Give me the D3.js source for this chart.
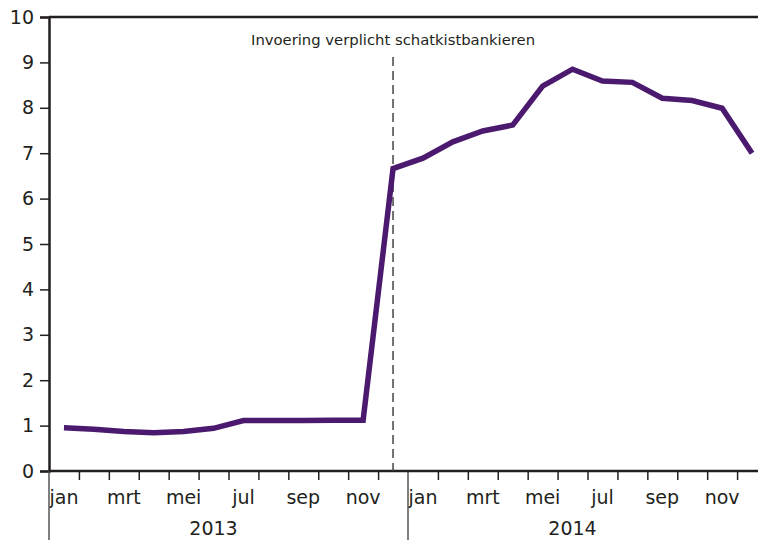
<!DOCTYPE html>
<html>
<head>
<meta charset="utf-8">
<script src="https://cdn.jsdelivr.net/npm/d3@7"></script>
<style>
  html, body { margin: 0; padding: 0; background: #fff; }
  svg { display: block; font-family: "DejaVu Sans", sans-serif; }
</style>
</head>
<body>
<svg id="chart" width="758" height="540"></svg>
<script>
const years = ["2013", "2014"];
const monthLabels = ["jan","feb","mrt","apr","mei","jun","jul","aug","sep","okt","nov","dec"];
const shownMonths = ["jan","mrt","mei","jul","sep","nov"];
const values2013 = [0.95, 0.92, 0.87, 0.84, 0.87, 0.94, 1.11, 1.11, 1.11, 1.12, 1.12, 6.66];
const values2014 = [6.89, 7.25, 7.49, 7.62, 8.48, 8.85, 8.59, 8.56, 8.21, 8.16, 7.99, 7.00];
const yTicks = [0,1,2,3,4,5,6,7,8,9,10];
const annotationText = "Invoering verplicht schatkistbankieren";
const annotationAt = "2013-dec";

(function () {
const categories = [];
years.forEach(yr => monthLabels.forEach(m => categories.push(yr + "-" + m)));
const data = categories.map((c, i) => ({ key: c,
  value: i < 12 ? values2013[i] : values2014[i - 12] }));

const svg = d3.select("#chart");
const mLeft = 49, mRight = 767, mTop = 17, mBottom = 471;
const ink = "#231f20";
const purple = "#4b1a6f";

const x = d3.scaleBand().domain(categories).range([mLeft, mRight]).padding(0);
const xi = d3.scaleLinear().domain([0, categories.length]).range([mLeft, mRight]);
const y = d3.scaleLinear().domain([0, 10]).range([mBottom, mTop]);
const cx = k => x(k) + x.bandwidth() / 2;

// top border
svg.append("line").attr("x1", mLeft).attr("x2", mRight).attr("y1", mTop).attr("y2", mTop)
  .attr("stroke", ink).attr("stroke-width", 2.5);

// y axis
const yAxis = svg.append("g").attr("transform", `translate(${mLeft},0)`)
  .call(d3.axisLeft(y).tickValues(yTicks).tickSize(9).tickPadding(6).tickFormat(d3.format("d")));
yAxis.select(".domain").attr("stroke", ink).attr("stroke-width", 2.5);
yAxis.selectAll(".tick line").attr("stroke", ink).attr("stroke-width", 1.5);
yAxis.selectAll(".tick text").attr("fill", ink).style("font-size", "19px")
  .style("font-family", "'DejaVu Sans', sans-serif");

// x ticks at month boundaries
const boundaryTicks = d3.range(1, categories.length).filter(i => i % 12 !== 0);
const xTickAxis = svg.append("g").attr("transform", `translate(0,${mBottom})`)
  .call(d3.axisBottom(xi).tickValues(boundaryTicks).tickSize(9).tickFormat(""));
xTickAxis.select(".domain").remove();
xTickAxis.selectAll(".tick line").attr("stroke", ink).attr("stroke-width", 1.5);

// x month labels
const xLabelAxis = svg.append("g").attr("transform", `translate(0,${mBottom})`)
  .call(d3.axisBottom(x).tickValues(categories.filter(c => shownMonths.includes(c.split("-")[1])))
    .tickSize(0).tickPadding(20).tickFormat(d => d.split("-")[1]));
xLabelAxis.select(".domain").remove();
xLabelAxis.selectAll(".tick text").attr("fill", ink).style("font-size", "19px")
  .style("font-family", "'DejaVu Sans', sans-serif");

// year dividers (thin lines going down to bottom)
[0, 12].forEach(i => {
  svg.append("line").attr("x1", xi(i)).attr("x2", xi(i)).attr("y1", mBottom).attr("y2", 540)
    .attr("stroke", "#555").attr("stroke-width", 1.5);
});

// year labels
years.forEach(yr => {
  svg.append("text").attr("x", cx(yr + "-jun")).attr("y", 535)
    .attr("text-anchor", "middle").attr("fill", ink).style("font-size", "19px").text(yr);
});

// x axis baseline
svg.append("line").attr("x1", mLeft).attr("x2", mRight).attr("y1", mBottom).attr("y2", mBottom)
  .attr("stroke", ink).attr("stroke-width", 2.5);

// annotation dashed line
svg.append("line").attr("x1", cx(annotationAt)).attr("x2", cx(annotationAt))
  .attr("y1", 57).attr("y2", mBottom)
  .attr("stroke", "#444").attr("stroke-width", 1.5).attr("stroke-dasharray", "9,5");
svg.append("text").attr("x", cx(annotationAt)).attr("y", 45).attr("text-anchor", "middle")
  .attr("fill", ink).style("font-size", "14.8px").text(annotationText);

// data line
const line = d3.line().x(d => cx(d.key)).y(d => y(d.value));
svg.append("path").datum(data).attr("d", line).attr("fill", "none")
  .attr("stroke", purple).attr("stroke-width", 5.5).attr("stroke-linejoin", "miter");
})();
</script>
</body>
</html>
